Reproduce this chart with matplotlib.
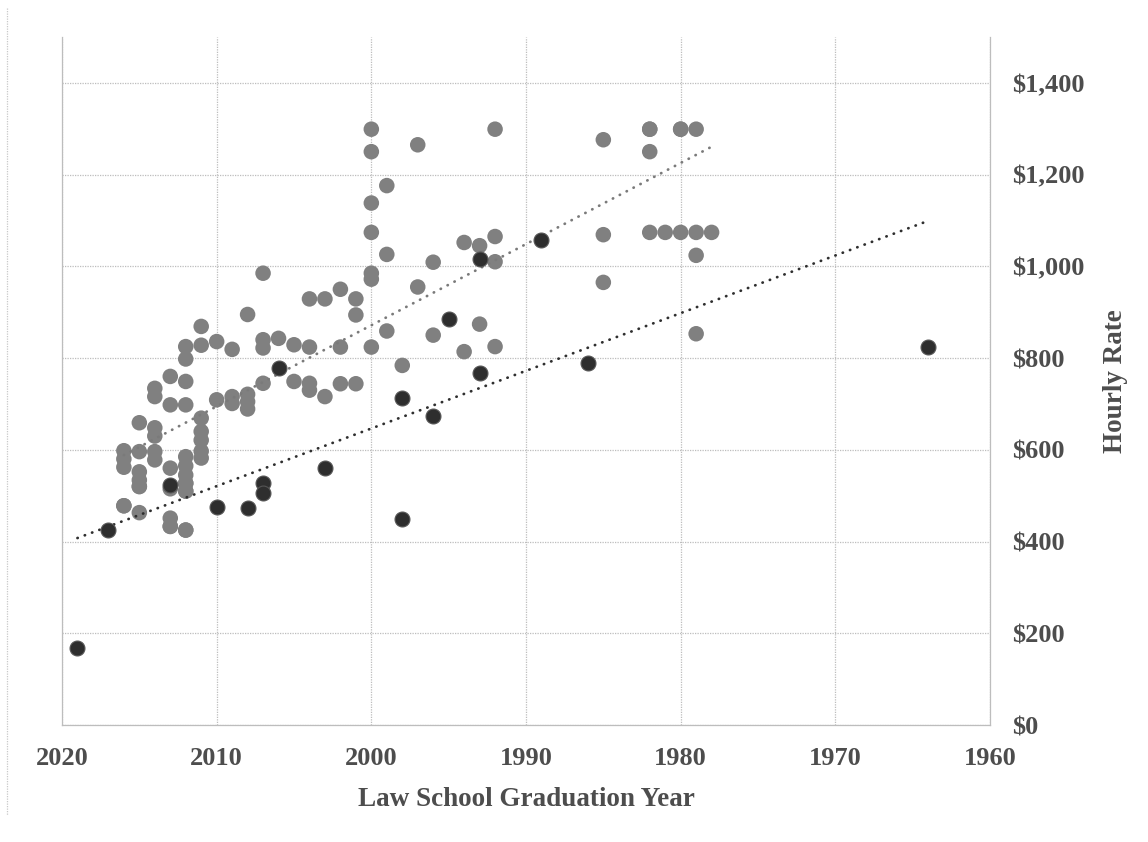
import matplotlib
matplotlib.use("Agg")
import matplotlib.pyplot as plt
from matplotlib.lines import Line2D
from matplotlib.ticker import FuncFormatter
import numpy as np

# gray series: (graduation year, hourly rate)
# some entries repeat: identical rates in the same year sit on top of each other
gray_years = [
    2016, 2016, 2016, 2016, 2016,
    2015, 2015, 2015, 2015, 2015, 2015, 2015,
    2014, 2014, 2014, 2014, 2014, 2014,
    2013, 2013, 2013, 2013, 2013, 2013, 2013,
    2012, 2012, 2012, 2012, 2012, 2012, 2012, 2012, 2012, 2012, 2012, 2012, 2012,
    2011, 2011, 2011, 2011, 2011, 2011, 2011,
    2010, 2010,
    2009, 2009, 2009,
    2008, 2008, 2008, 2008,
    2007, 2007, 2007, 2007,
    2006,
    2005, 2005,
    2004, 2004, 2004, 2004,
    2003, 2003,
    2002, 2002, 2002,
    2001, 2001, 2001,
    2000, 2000, 2000, 2000, 2000, 2000, 2000,
    1999, 1999, 1999,
    1998,
    1997, 1997,
    1996, 1996,
    1994, 1994,
    1993, 1993,
    1992, 1992, 1992, 1992,
    1985, 1985, 1985,
    1982, 1982, 1982, 1982,
    1981,
    1980, 1980, 1980,
    1979, 1979, 1979, 1979,
    1978,
]
gray_rates = [
    598, 580, 562, 478, 478,
    659, 596, 552, 534, 520, 520, 463,
    734, 716, 648, 630, 596, 578,
    760, 698, 560, 515, 451, 433, 433,
    825, 798, 749, 698, 585, 565, 545, 527, 527, 510, 510, 425, 425,
    869, 828, 669, 640, 621, 597, 582,
    836, 709,
    819, 716, 701,
    895, 721, 705, 689,
    985, 840, 822, 745,
    843,
    829, 749,
    929, 824, 745, 730,
    929, 716,
    950, 824, 744,
    929, 894, 744,
    1299, 1250, 1138, 1074, 985, 972, 824,
    1176, 1026, 859,
    784,
    1265, 955,
    1009, 850,
    1052, 814,
    1045, 874,
    1299, 1065, 1010, 825,
    1276, 1069, 965,
    1299, 1299, 1250, 1074,
    1074,
    1299, 1299, 1074,
    1299, 1074, 1024, 853,
    1074,
]

# dark series
dark_years = [2019, 2017, 2013, 2010, 2008, 2007, 2007, 2006, 2003,
              1998, 1998, 1996, 1995, 1993, 1993, 1989, 1986, 1964]
dark_rates = [167, 425, 523, 476, 474, 527, 505, 778, 561,
              712, 449, 674, 885, 1017, 767, 1058, 789, 825]

x_ticks = [2020, 2010, 2000, 1990, 1980, 1970, 1960]
y_ticks = [0, 200, 400, 600, 800, 1000, 1200, 1400]

plt.rcParams["font.family"] = ["Liberation Serif", "DejaVu Serif"]
plt.rcParams["font.weight"] = "bold"
txt_color = "#4d4d4d"
grid_color = "#bdbdbd"

fig = plt.figure(figsize=(11.48, 8.42), dpi=100)
ax = fig.add_axes([62 / 1148, 1 - 725 / 842, 928 / 1148, 688 / 842])

# gridlines (dotted)
for xv in x_ticks:
    ax.axvline(xv, color=grid_color, linestyle=(0, (1, 1)), linewidth=0.9, zorder=0)
for yv in y_ticks:
    ax.axhline(yv, color=grid_color, linestyle=(0, (1, 1)), linewidth=0.9, zorder=0)

ax.scatter(gray_years, gray_rates, s=125, color="#808080",
           edgecolors="none", zorder=2)

# linear trendlines over each series' range
def trend(xs, ys, color, z):
    xs = np.array(xs, dtype=float)
    ys = np.array(ys, dtype=float)
    k, b = np.polyfit(xs, ys, 1)
    xx = np.array([xs.max(), xs.min()])
    ax.plot(xx, k * xx + b, color=color, linewidth=2.0,
            linestyle=(0, (0.1, 2.7)), dash_capstyle="round", zorder=z)

trend(gray_years, gray_rates, "#7a7a7a", 3)
trend(dark_years, dark_rates, "#2e2e2e", 3)

ax.scatter(dark_years, dark_rates, s=115, color="#2e2e2e",
           edgecolors="#555555", linewidths=0.8, zorder=4)

ax.set_xlim(2020, 1960)
ax.set_ylim(0, 1500)
ax.set_xticks(x_ticks)
ax.set_yticks(y_ticks)
ax.yaxis.tick_right()
ax.yaxis.set_label_position("right")
ax.yaxis.set_major_formatter(FuncFormatter(lambda v, _: f"${v:,.0f}"))
ax.tick_params(axis="both", length=0, labelsize=19, labelcolor=txt_color)
ax.tick_params(axis="x", pad=16)
ax.tick_params(axis="y", pad=16)
for lab in ax.get_xticklabels() + ax.get_yticklabels():
    lab.set_fontweight("bold")

ax.set_xlabel("Law School Graduation Year", fontsize=19.5, fontweight="bold",
              color=txt_color, labelpad=12)
ax.set_ylabel("Hourly Rate", fontsize=19.5, fontweight="bold",
              color=txt_color, labelpad=13)

for side in ["left", "bottom", "right"]:
    ax.spines[side].set_color(grid_color)
    ax.spines[side].set_linestyle((0, (1, 1)))
    ax.spines[side].set_linewidth(0.9)
ax.spines["top"].set_visible(False)

# faint outer frame line on the left edge
fig.add_artist(Line2D([7 / 1148, 7 / 1148], [1 - 8 / 842, 1 - 815 / 842],
                      transform=fig.transFigure, color="#c8c8c8",
                      linestyle=(0, (1, 1)), linewidth=0.9))

fig.savefig("out.png", dpi=100, facecolor="white")
